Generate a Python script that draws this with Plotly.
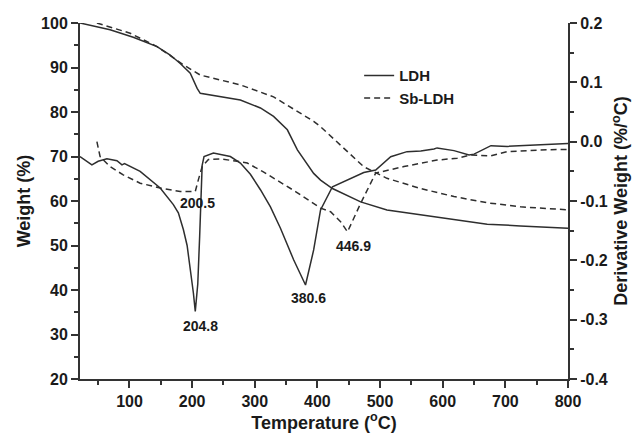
import plotly.graph_objects as go

# ---- data ----
ldh_tga_T = [21, 69, 106, 144, 165, 181, 197, 208, 213, 229, 250, 277, 309, 330, 352, 368, 394, 405, 424, 469, 511, 565, 618, 671, 724, 796, 800]
ldh_tga_W = [100, 98.5, 96.8, 94.7, 92.8, 90.9, 88.7, 85.3, 84.2, 83.8, 83.3, 82.7, 80.9, 79.0, 76.0, 71.5, 66.2, 64.7, 62.8, 59.8, 58.0, 56.9, 55.9, 54.8, 54.4, 53.9, 53.9]

sb_tga_T = [48, 101, 144, 186, 213, 245, 277, 330, 394, 405, 437, 474, 511, 565, 618, 671, 724, 796, 800]
sb_tga_W = [100, 97.7, 94.7, 90.6, 88.3, 87.2, 86.1, 83.4, 77.9, 76.7, 72.6, 67.7, 65.1, 62.8, 61.0, 59.6, 58.7, 58.0, 58.0]

ldh_dtg_T = [21, 40, 50, 64, 80, 88, 92, 117, 149, 170, 178, 186, 192, 198, 202, 205, 209, 212, 214, 216, 219, 234, 261, 277, 293, 309, 325, 341, 362, 381, 394, 405, 424, 447, 474, 493, 517, 543, 565, 586, 591, 618, 642, 650, 671, 677, 703, 751, 800]
ldh_dtg_d = [-0.025, -0.039, -0.033, -0.029, -0.032, -0.039, -0.037, -0.050, -0.078, -0.106, -0.120, -0.148, -0.175, -0.220, -0.255, -0.286, -0.240, -0.160, -0.080, -0.040, -0.025, -0.019, -0.025, -0.036, -0.055, -0.081, -0.110, -0.146, -0.199, -0.2415, -0.1825, -0.115, -0.076, -0.0645, -0.052, -0.0477, -0.0253, -0.0168, -0.0157, -0.0123, -0.0105, -0.0151, -0.0224, -0.021, -0.009, -0.0067, -0.008, -0.0056, -0.003]

sb_dtg_T = [48, 53, 69, 90, 117, 149, 181, 205, 210, 216, 226, 245, 272, 288, 313, 365, 405, 421, 437, 448, 469, 493, 538, 591, 623, 645, 677, 703, 756, 800]
sb_dtg_d = [0.0, -0.025, -0.042, -0.056, -0.070, -0.078, -0.084, -0.084, -0.064, -0.042, -0.030, -0.029, -0.033, -0.036, -0.0505, -0.084, -0.112, -0.118, -0.135, -0.152, -0.104, -0.053, -0.042, -0.031, -0.028, -0.0224, -0.024, -0.0168, -0.014, -0.013]

peak_labels = ["204.8", "200.5", "380.6", "446.9"]
peak_label_pos = [(213, -0.311), (208, -0.103), (386, -0.263), (457, -0.175)]

x_ticks = [100, 200, 300, 400, 500, 600, 700, 800]
y_ticks = [20, 30, 40, 50, 60, 70, 80, 90, 100]
y2_ticks = [-0.4, -0.3, -0.2, -0.1, 0.0, 0.1, 0.2]
y2_labels = ["-0.4", "-0.3", "-0.2", "-0.1", "0.0", "0.1", "0.2"]

LINE = "#2e2e2e"
AX = "#333333"
TXT = "#1a1a1a"
FONT = "Liberation Sans, Arial, sans-serif"

fig = go.Figure()
fig.add_trace(go.Scatter(x=ldh_tga_T, y=ldh_tga_W, mode="lines", name="LDH",
                         line=dict(color=LINE, width=1.5)))
fig.add_trace(go.Scatter(x=sb_tga_T, y=sb_tga_W, mode="lines", name="Sb-LDH",
                         line=dict(color=LINE, width=1.5, dash="6px,4px")))
fig.add_trace(go.Scatter(x=ldh_dtg_T, y=ldh_dtg_d, mode="lines", yaxis="y2", showlegend=False,
                         line=dict(color=LINE, width=1.5)))
fig.add_trace(go.Scatter(x=sb_dtg_T, y=sb_dtg_d, mode="lines", yaxis="y2", showlegend=False,
                         line=dict(color=LINE, width=1.5, dash="6px,4px")))

for txt, (lx, ly) in zip(peak_labels, peak_label_pos):
    fig.add_annotation(x=lx, y=ly, xref="x", yref="y2", text=txt, showarrow=False,
                       font=dict(family=FONT, size=14, color=TXT, weight="bold"))

tick_common = dict(showgrid=False, zeroline=False, showline=True, linecolor=AX, linewidth=2,
                   ticks="outside", ticklen=7, tickwidth=2, tickcolor=AX, automargin=False)

fig.update_layout(
    width=636, height=444,
    margin=dict(l=80, r=68, t=23, b=65),
    paper_bgcolor="white", plot_bgcolor="white",
    font=dict(family=FONT, size=16, color=TXT, weight="bold"),
    showlegend=True,
    legend=dict(x=0.572, y=0.898, xanchor="left", yanchor="top",
                bgcolor="rgba(0,0,0,0)", borderwidth=0, tracegroupgap=0,
                font=dict(family=FONT, size=15, color=TXT, weight="bold")),
    xaxis=dict(range=[21, 800], tickvals=x_ticks,
               minor=dict(dtick=50, tick0=0, ticks="outside", ticklen=4, tickwidth=2, tickcolor=AX),
               title=dict(text="Temperature (<sup>o</sup>C)", standoff=7,
                          font=dict(family=FONT, size=18, color=TXT, weight="bold")),
               **tick_common),
    yaxis=dict(range=[20, 100], tickvals=y_ticks,
               minor=dict(dtick=5, tick0=0, ticks="outside", ticklen=4, tickwidth=2, tickcolor=AX),
               title=dict(text="Weight (%)", standoff=6,
                          font=dict(family=FONT, size=18, color=TXT, weight="bold")),
               **tick_common),
    yaxis2=dict(range=[-0.4, 0.2], overlaying="y", side="right", tickvals=y2_ticks, ticktext=y2_labels,
                minor=dict(dtick=0.05, tick0=0, ticks="outside", ticklen=4, tickwidth=2, tickcolor=AX),
                title=dict(text="Derivative Weight (%/<sup>o</sup>C)", standoff=8,
                           font=dict(family=FONT, size=18, color=TXT, weight="bold")),
                **tick_common),
)

fig.write_html("out.html")
